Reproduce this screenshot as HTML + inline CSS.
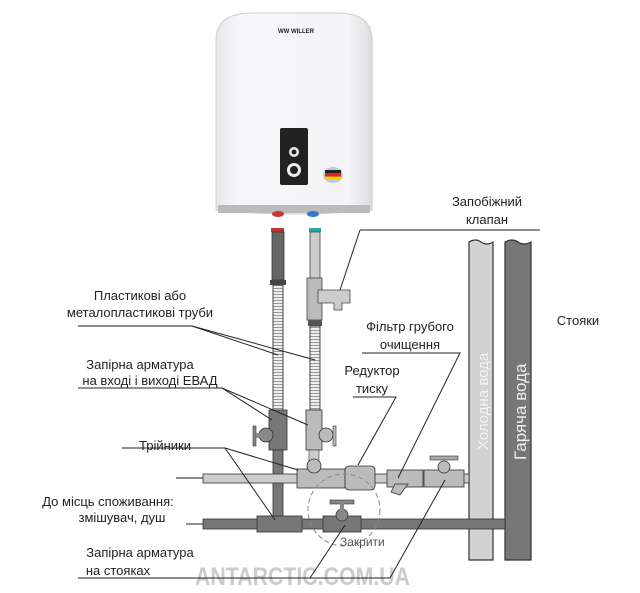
<!DOCTYPE html>
<html><head><meta charset="utf-8"><style>
body{margin:0;background:#fff}
svg{display:block}
text{font-family:"Liberation Sans",sans-serif;fill:#222}
</style></head><body>
<svg width="640" height="593" viewBox="0 0 640 593" xmlns="http://www.w3.org/2000/svg">
<defs>
<linearGradient id="body" x1="0" x2="1"><stop offset="0" stop-color="#e8e8ec"/><stop offset="0.15" stop-color="#f7f7f9"/><stop offset="0.85" stop-color="#f4f4f6"/><stop offset="1" stop-color="#dcdce0"/></linearGradient>
<pattern id="flex" width="4" height="3" patternUnits="userSpaceOnUse"><rect width="4" height="3" fill="#eee"/><rect y="0" width="4" height="1" fill="#999"/></pattern>
</defs>
<path d="M216 40 Q216 14 250 13 L340 13 Q372 14 372 40 L372 210 Q294 218 216 210 Z" fill="url(#body)" stroke="#ccc"/>
<rect x="218" y="205" width="152" height="8" fill="#bbb"/>
<text x="296" y="33" font-size="6" font-weight="bold" fill="#444" text-anchor="middle">WW WILLER</text>
<rect x="280" y="128" width="28" height="57" rx="2" fill="#222"/>
<circle cx="294" cy="152" r="5" fill="#eee"/><circle cx="294" cy="152" r="2.5" fill="#222"/>
<circle cx="294" cy="170" r="7" fill="#eee"/><circle cx="294" cy="170" r="4" fill="#222"/>
<ellipse cx="333" cy="175" rx="10" ry="8" fill="#bcd"/>
<rect x="325" y="170" width="16" height="3.3" fill="#222"/><rect x="325" y="173.3" width="16" height="3.3" fill="#d22"/><rect x="325" y="176.6" width="16" height="3.3" fill="#fc0"/>
<ellipse cx="278" cy="214" rx="6" ry="3" fill="#c33"/><ellipse cx="313" cy="214" rx="6" ry="3" fill="#37c"/>
<rect x="271" y="228" width="13" height="4" fill="#c33"/>
<rect x="272" y="232" width="12" height="48" fill="#666" stroke="#333" stroke-width="0.8"/>
<rect x="270" y="280" width="16" height="5" fill="#444"/>
<rect x="273" y="285" width="10" height="125" fill="url(#flex)" stroke="#444" stroke-width="1"/>
<rect x="309" y="228" width="12" height="4" fill="#2aa"/>
<rect x="310" y="232" width="10" height="48" fill="#ccc" stroke="#444" stroke-width="0.8"/>
<rect x="307" y="278" width="15" height="42" fill="#bbb" stroke="#444" stroke-width="0.8"/>
<path d="M318 290 L350 290 L350 303 L342 303 L342 310 L334 310 L334 303 L318 303 Z" fill="#ccc" stroke="#444" stroke-width="0.8"/>
<rect x="308" y="320" width="14" height="6" fill="#555"/>
<rect x="310" y="326" width="10" height="84" fill="url(#flex)" stroke="#444" stroke-width="1"/>
<rect x="269" y="410" width="18" height="40" fill="#777" stroke="#333" stroke-width="0.8"/>
<circle cx="266" cy="435" r="7" fill="#888" stroke="#333" stroke-width="0.8"/>
<rect x="253" y="426" width="3" height="20" fill="#888" stroke="#333" stroke-width="0.6"/>
<rect x="256" y="433" width="6" height="5" fill="#888"/>
<rect x="306" y="410" width="16" height="40" fill="#bbb" stroke="#333" stroke-width="0.8"/>
<circle cx="326" cy="435" r="7" fill="#bbb" stroke="#333" stroke-width="0.8"/>
<rect x="333" y="426" width="3" height="20" fill="#bbb" stroke="#333" stroke-width="0.6"/>
<rect x="309" y="450" width="10" height="12" fill="#ccc" stroke="#333" stroke-width="0.6"/>
<rect x="273" y="450" width="10" height="75" fill="#777" stroke="#333" stroke-width="0.8"/>
<path d="M469 242 Q476 238 481 242 Q487 246 493 242 L493 560 L469 560 Z" fill="#d2d2d2" stroke="#333" stroke-width="1.2"/>
<path d="M505 242 Q512 238 518 242 Q524 246 531 242 L531 560 L505 560 Z" fill="#777" stroke="#333" stroke-width="1.2"/>
<text transform="translate(488 450) rotate(-90)" font-size="15" style="fill:#f4f4f4">Холодна вода</text>
<text transform="translate(526 460) rotate(-90)" font-size="17" style="fill:#eee">Гаряча вода</text>
<rect x="203" y="474" width="266" height="9" fill="#ccc" stroke="#333" stroke-width="0.8"/>
<rect x="297" y="469" width="48" height="19" fill="#bbb" stroke="#333" stroke-width="0.8"/>
<circle cx="314" cy="466" r="7" fill="#bbb" stroke="#333" stroke-width="0.8"/>
<rect x="345" y="466" width="30" height="24" rx="4" fill="#bbb" stroke="#333" stroke-width="0.8"/>
<rect x="387" y="470" width="36" height="17" fill="#bbb" stroke="#333" stroke-width="0.8"/>
<path d="M395 484 L408 484 L400 495 L391 492 Z" fill="#bbb" stroke="#333" stroke-width="0.8"/>
<rect x="424" y="470" width="40" height="17" fill="#bbb" stroke="#333" stroke-width="0.8"/>
<circle cx="444" cy="467" r="6" fill="#bbb" stroke="#333" stroke-width="0.8"/>
<rect x="430" y="456" width="28" height="4" fill="#aaa" stroke="#333" stroke-width="0.6"/>
<rect x="203" y="519" width="302" height="10" fill="#777" stroke="#333" stroke-width="0.8"/>
<rect x="257" y="516" width="45" height="16" fill="#777" stroke="#333" stroke-width="0.8"/>
<rect x="323" y="516" width="38" height="16" fill="#777" stroke="#333" stroke-width="0.8"/>
<circle cx="342" cy="515" r="6" fill="#888" stroke="#333" stroke-width="0.8"/>
<rect x="330" y="500" width="24" height="4" fill="#888" stroke="#333" stroke-width="0.6"/>
<rect x="340" y="503" width="4" height="8" fill="#888"/>
<circle cx="344" cy="510" r="36" fill="none" stroke="#888" stroke-width="1" stroke-dasharray="5,3"/>
<text x="340" y="546" font-size="12" style="fill:#555">Закрити</text>
<text x="195" y="585" font-size="25" font-weight="bold" style="fill:#cbcbcb" textLength="215" lengthAdjust="spacingAndGlyphs">ANTARCTIC.COM.UA</text>
<g font-size="13" text-anchor="middle">
<text x="487" y="206">Запобіжний</text><text x="487" y="224">клапан</text>
<text x="140" y="300">Пластикові або</text><text x="140" y="317">металопластикові труби</text>
<text x="140" y="369">Запірна арматура</text><text x="150" y="385">на вході і виході ЕВАД</text>
<text x="410" y="331">Фільтр грубого</text><text x="410" y="349">очищення</text>
<text x="372" y="375">Редуктор</text><text x="372" y="393">тиску</text>
<text x="165" y="450">Трійники</text>
<text x="108" y="506">До місць споживання:</text><text x="122" y="522">змішувач, душ</text>
<text x="140" y="557">Запірна арматура</text><text x="118" y="575">на стояках</text>
<text x="578" y="325">Стояки</text>
</g>
<g stroke="#222" stroke-width="1" fill="none">
<polyline points="360,230 540,230"/><polyline points="360,230 340,290"/>
<polyline points="78,326 192,326 278,355"/><polyline points="192,326 315,360"/>
<polyline points="78,388 222,388 272,420"/><polyline points="222,388 308,425"/>
<polyline points="122,448 225,448 298,470"/><polyline points="225,448 275,520"/>
<polyline points="362,353 460,353 398,478"/>
<polyline points="353,397 396,397 358,465"/>
<polyline points="176,478 203,478"/><polyline points="186,524 203,524"/>
<polyline points="78,578 310,578 345,525"/><polyline points="310,578 390,578 445,480"/>
</g>
</svg>
</body></html>
